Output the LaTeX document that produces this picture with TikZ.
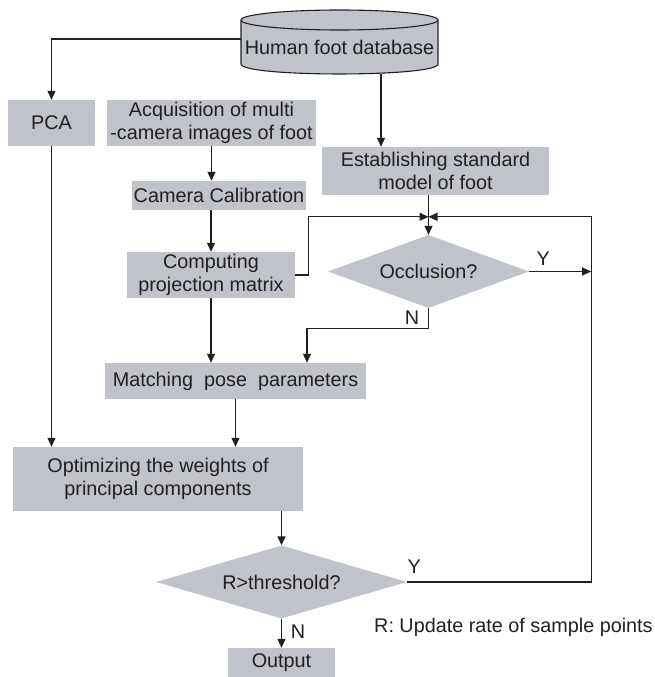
\documentclass[tikz,border=0pt]{standalone}
\usepackage{fontspec}
\setmainfont{Liberation Sans}
\usetikzlibrary{positioning, shapes.geometric, arrows.meta}
\definecolor{boxgray}{RGB}{193,195,202}
\definecolor{ink}{RGB}{35,31,32}

\begin{document}
\begin{tikzpicture}[x=1pt, y=-1pt, font=\fontsize{19.8}{22.5}\selectfont, text=ink,
  box/.style={fill=boxgray, inner sep=0pt, align=center},
  dec/.style={diamond, fill=boxgray, inner sep=0pt, aspect=2.75},
  arr/.style={-{Triangle[length=9pt,width=8pt]}, draw=ink, line width=1.1pt}]
\useasboundingbox (0,0) rectangle (655,677);
% database cylinder
\fill[boxgray] (241,20) rectangle (438,64);
\fill[boxgray] (241,64) .. controls (241,77.3) and (438,77.3) .. (438,64) -- cycle;
\draw[ink, line width=1.1pt] (241,20) -- (241,64) .. controls (241,77.3) and (438,77.3) .. (438,64) -- (438,20);
\draw[ink, line width=1.1pt, fill=boxgray] (339.5,20) ellipse[x radius=98.5, y radius=10];
\node[minimum width=197pt, minimum height=54pt, inner sep=0pt] (db) at (339.5,47) {Human foot database};

\node[box, minimum width=87pt, minimum height=46pt] (pca) at (51.5,123) {PCA};
\node[box, minimum width=209pt, minimum height=46pt] (acq) at (211.5,123) {Acquisition of multi\\-camera images of foot};
\node[box, minimum width=227pt, minimum height=48pt] (est) at (435.5,171) {Establishing standard\\model of foot};
\node[box, minimum width=174pt, minimum height=29pt] (cam) at (219,195.5) {Camera Calibration};
\node[box, minimum width=168pt, minimum height=46pt] (comp) at (211,275) {Computing\\projection matrix};
\node[dec, minimum width=201pt, minimum height=73pt] (occ) at (428.5,271.5) {Occlusion?};
\node[box, minimum width=261pt, minimum height=36pt] (match) at (235.5,381) {Matching~ pose~ parameters};
\node[box, minimum width=290pt, minimum height=64pt] (opt) at (158,479) {Optimizing the weights of\\principal components};
\node[dec, aspect=3.44, minimum width=251pt, minimum height=73pt] (rth) at (281.5,582) {R>threshold?};
\node[box, minimum width=107pt, minimum height=29pt] (out) at (281.5,662.5) {Output};
\node[anchor=west, inner sep=0pt] (note) at (374,627) {R: Update rate of sample points};

% connectors
\coordinate (j) at ([yshift=18pt]occ.north);
\coordinate (k) at ([xshift=62pt]occ.east);
\draw[arr] ([yshift=8pt]db.west) -| (pca.north);
\draw[arr] ([xshift=41.5pt]db.south) -- ([xshift=41.5pt]db.south |- est.north);
\draw[arr] (acq.south) -- (acq.south |- cam.north);
\draw[arr] (comp.north |- cam.south) -- (comp.north);
\draw[arr] (est.south -| j) -- (occ.north);
\draw[arr] (comp.east) -- ++(13,0) |- (j);
\draw[arr] (rth.east) -| (k |- j) -- (j);
\draw[arr] (occ.east) -- (k);
\draw[arr] (occ.south) -- ++(0,20) -| ([xshift=71.5pt]match.north);
\draw[arr] (comp.south) -- (comp.south |- match.north);
\draw[arr] (match.south) -- (match.south |- opt.north);
\draw[arr] (pca.south) -- (pca.south |- opt.north);
\draw[arr] (rth.north |- opt.south) -- (rth.north);
\draw[arr] (rth.south) -- (out.north);

\node (y1) at ([xshift=14pt,yshift=13pt]occ.east) {Y};
\node (n1) at ([xshift=-16.5pt,yshift=-9pt]occ.south) {N};
\node (y2) at ([xshift=7pt,yshift=15pt]rth.east) {Y};
\node (n2) at ([xshift=16.5pt,yshift=-13pt]rth.south) {N};
\end{tikzpicture}
\end{document}
